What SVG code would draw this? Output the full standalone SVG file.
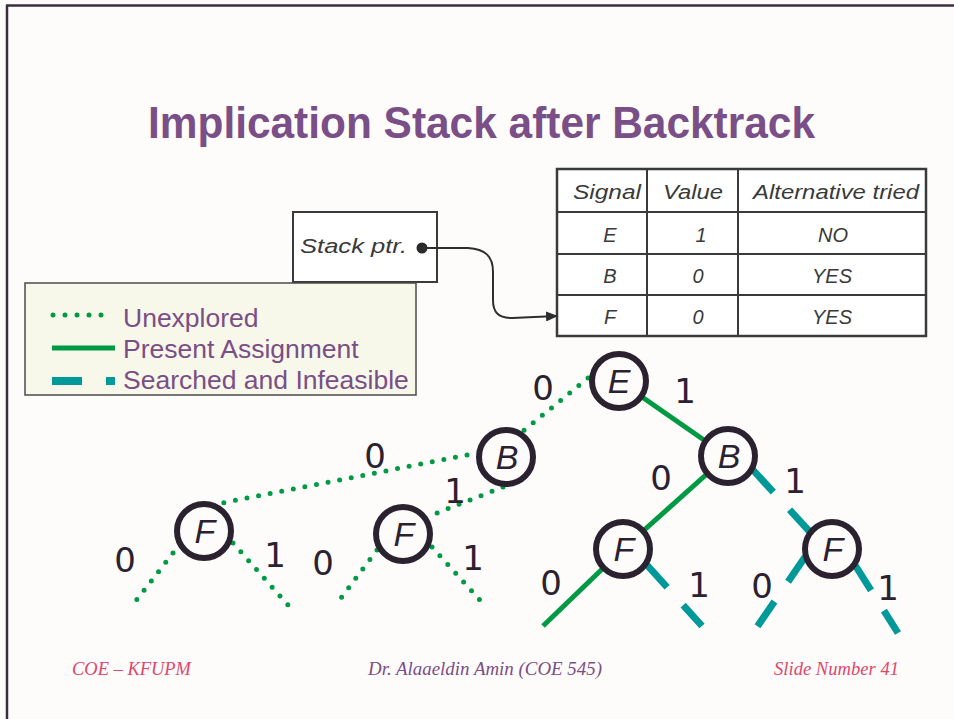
<svg xmlns="http://www.w3.org/2000/svg" width="954" height="719" viewBox="0 0 954 719">
  <defs>
    <marker id="arrow" viewBox="0 0 12 10" refX="11" refY="5" markerWidth="12" markerHeight="10" markerUnits="userSpaceOnUse" orient="auto">
      <path d="M0,0 L12,5 L0,10 Z" fill="#2e2e2e"/>
    </marker>
    <style>
      .title { font-family: "Liberation Sans", Arial, sans-serif; font-weight: bold; font-size: 44px; fill: #7a4e86; }
      .tbl { font-family: "Liberation Sans", Arial, sans-serif; font-style: italic; font-size: 20px; fill: #3a3a3a; text-anchor: middle; }
      .grid { stroke: #3a3a3a; stroke-width: 2; fill: none; }
      .leg { font-family: "Liberation Sans", Arial, sans-serif; font-size: 26.5px; fill: #7a4e86; }
      .foot { font-family: "Liberation Serif", "Times New Roman", serif; font-style: italic; font-size: 18px; }
      .bit { font-family: "DejaVu Sans", sans-serif; font-size: 34px; fill: #2b2230; text-anchor: middle; }
      .node circle { fill: #fefcfb; stroke: #2b2230; stroke-width: 6; }
      .node text { font-family: "Liberation Sans", Arial, sans-serif; font-style: italic; font-size: 34px; fill: #2b2230; text-anchor: middle; }
      .dotted { stroke: #009944; stroke-width: 5; stroke-linecap: round; stroke-dasharray: 0 11.8; fill: none; }
      .solid { stroke: #009944; stroke-width: 5; fill: none; }
      .infeasible { stroke: #009999; stroke-width: 7; stroke-dasharray: 30 24; fill: none; }
    </style>
  </defs>

  <!-- slide background and frame -->
  <rect x="0" y="0" width="954" height="719" fill="#fefcfb"/>
  <line x1="6" y1="5.5" x2="954" y2="5.5" stroke="#3a2d3e" stroke-width="2.5"/>
  <line x1="7" y1="5" x2="7" y2="719" stroke="#3a2d3e" stroke-width="2.5"/>

  <text class="title" x="148" y="138" textLength="667" lengthAdjust="spacingAndGlyphs">Implication Stack after Backtrack</text>

  <!-- stack pointer box -->
  <g id="stack-ptr">
    <rect x="293" y="212" width="144" height="70" fill="#ffffff" stroke="#3a3a3a" stroke-width="2"/>
    <text class="tbl" x="300" y="253" style="text-anchor:start" textLength="107" lengthAdjust="spacingAndGlyphs">Stack  ptr.</text>
    <circle cx="422" cy="248" r="5.5" fill="#2a2a2a"/>
  </g>

  <!-- implication stack table -->
  <g id="stack-table">
    <rect x="557" y="169" width="369" height="167" fill="#ffffff" stroke="#3a3a3a" stroke-width="2.5"/>
    <line class="grid" x1="557" y1="212" x2="926" y2="212"/>
    <line class="grid" x1="557" y1="254" x2="926" y2="254"/>
    <line class="grid" x1="557" y1="295" x2="926" y2="295"/>
    <line class="grid" x1="647" y1="169" x2="647" y2="336"/>
    <line class="grid" x1="738" y1="169" x2="738" y2="336"/>
    <text class="tbl" x="607" y="199" textLength="68" lengthAdjust="spacingAndGlyphs">Signal</text>
    <text class="tbl" x="693" y="199" textLength="60" lengthAdjust="spacingAndGlyphs">Value</text>
    <text class="tbl" x="836" y="199" textLength="166" lengthAdjust="spacingAndGlyphs">Alternative tried</text>
    <text class="tbl" x="610" y="242">E</text>
    <text class="tbl" x="701" y="242">1</text>
    <text class="tbl" x="833" y="242">NO</text>
    <text class="tbl" x="610" y="283">B</text>
    <text class="tbl" x="698" y="283">0</text>
    <text class="tbl" x="832" y="283">YES</text>
    <text class="tbl" x="610" y="324">F</text>
    <text class="tbl" x="698" y="324">0</text>
    <text class="tbl" x="832" y="324">YES</text>
  </g>

  <!-- legend -->
  <g id="legend">
    <rect x="25" y="283" width="391" height="112" fill="#f8f8ea" stroke="#4a4a4a" stroke-width="1.5"/>
    <line class="dotted" x1="53" y1="315" x2="113" y2="315" style="stroke-dasharray:0 12"/>
    <text class="leg" x="123" y="327">Unexplored</text>
    <line class="solid" x1="52" y1="348" x2="115" y2="348"/>
    <text class="leg" x="123" y="358">Present Assignment</text>
    <line x1="52" y1="381" x2="82" y2="381" stroke="#009999" stroke-width="8"/>
    <line x1="106" y1="381" x2="115" y2="381" stroke="#009999" stroke-width="8"/>
    <text class="leg" x="123" y="389">Searched and Infeasible</text>
  </g>

  <!-- connectors -->
  <g id="connectors">
    <path d="M422 248 L468 248 C485 249 493 256 493 272 L493 300 C493 312 498 318 512 318 L557 316" fill="none" stroke="#2e2e2e" stroke-width="2" marker-end="url(#arrow)"/>

    <!-- unexplored branches -->
    <line class="dotted" x1="588" y1="378" x2="522" y2="432"/>
    <line class="dotted" x1="467" y1="455" x2="222" y2="503"/>
    <line class="dotted" x1="503" y1="487" x2="437" y2="513"/>
    <line class="dotted" x1="173" y1="553" x2="135" y2="602"/>
    <line class="dotted" x1="233" y1="543" x2="288" y2="605"/>
    <line class="dotted" x1="377" y1="550" x2="335" y2="606"/>
    <line class="dotted" x1="432" y1="547" x2="487" y2="608"/>

    <!-- present assignment -->
    <line class="solid" x1="619" y1="381" x2="727" y2="456"/>
    <line class="solid" x1="727" y1="456" x2="623" y2="549"/>
    <line class="solid" x1="623" y1="549" x2="543" y2="626"/>

    <!-- searched and infeasible -->
    <line class="infeasible" x1="753" y1="470" x2="810" y2="532"/>
    <line class="infeasible" x1="647" y1="565" x2="702" y2="626"/>
    <line class="infeasible" x1="805" y1="557" x2="757" y2="627"/>
    <line class="infeasible" x1="855" y1="565" x2="898" y2="633"/>
  </g>

  <!-- decision nodes -->
  <g id="node-E" class="node"><circle cx="619" cy="381" r="27"/><text x="619" y="393">E</text></g>
  <g id="node-B0" class="node"><circle cx="506" cy="457" r="27"/><text x="507" y="469">B</text></g>
  <g id="node-B1" class="node"><circle cx="728" cy="456" r="27"/><text x="729" y="468">B</text></g>
  <g id="node-F00" class="node"><circle cx="204" cy="531" r="27"/><text x="205" y="543">F</text></g>
  <g id="node-F01" class="node"><circle cx="403" cy="534" r="27"/><text x="404" y="546">F</text></g>
  <g id="node-F10" class="node"><circle cx="623" cy="549" r="27"/><text x="624" y="561">F</text></g>
  <g id="node-F11" class="node"><circle cx="832" cy="549" r="27"/><text x="833" y="561">F</text></g>

  <!-- branch values -->
  <g id="branch-labels">
    <text class="bit" x="543" y="400">0</text>
    <text class="bit" x="685" y="403">1</text>
    <text class="bit" x="375" y="468">0</text>
    <text class="bit" x="455" y="503">1</text>
    <text class="bit" x="661" y="490">0</text>
    <text class="bit" x="795" y="493">1</text>
    <text class="bit" x="125" y="572">0</text>
    <text class="bit" x="275" y="567">1</text>
    <text class="bit" x="323" y="575">0</text>
    <text class="bit" x="473" y="570">1</text>
    <text class="bit" x="551" y="595">0</text>
    <text class="bit" x="699" y="597">1</text>
    <text class="bit" x="762" y="598">0</text>
    <text class="bit" x="888" y="600">1</text>
  </g>

  <!-- footer -->
  <text class="foot" x="72" y="675" fill="#e0466a" textLength="119" lengthAdjust="spacingAndGlyphs">COE – KFUPM</text>
  <text class="foot" x="368" y="675" fill="#7a4e86" textLength="234" lengthAdjust="spacingAndGlyphs">Dr. Alaaeldin Amin (COE 545)</text>
  <text class="foot" x="774" y="675" fill="#e0466a" textLength="125" lengthAdjust="spacingAndGlyphs">Slide Number 41</text>
</svg>
